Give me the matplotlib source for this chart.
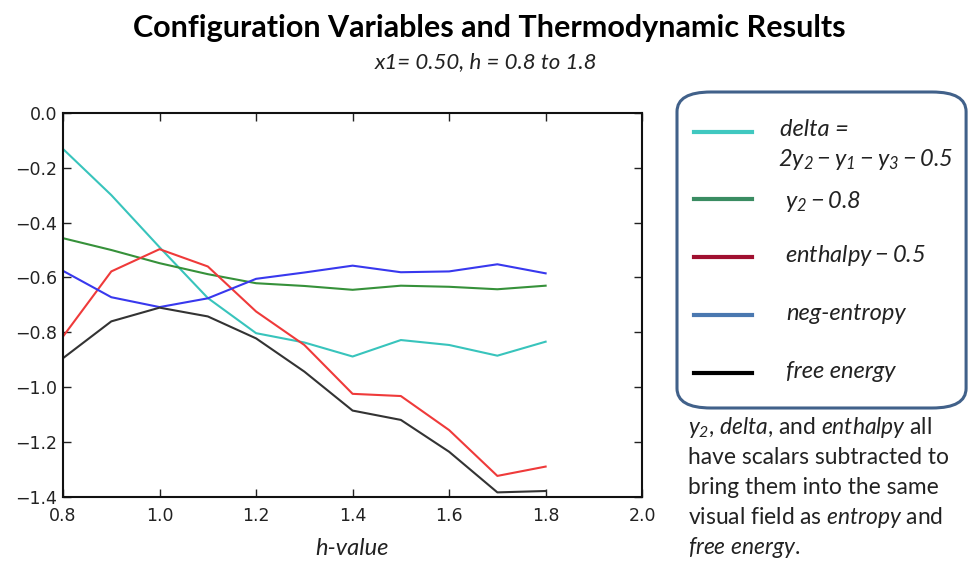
import matplotlib
matplotlib.use("Agg")
import matplotlib.pyplot as plt
from matplotlib.patches import FancyBboxPatch
from matplotlib.lines import Line2D

# data
h = [0.8, 0.9, 1.0, 1.1, 1.2, 1.3, 1.4, 1.5, 1.6, 1.7, 1.8]
delta = [-0.132, -0.30, -0.49, -0.675, -0.803, -0.837, -0.888, -0.828, -0.846, -0.885, -0.834]
y2 = [-0.457, -0.50, -0.548, -0.588, -0.621, -0.631, -0.645, -0.630, -0.634, -0.643, -0.630]
enthalpy = [-0.815, -0.578, -0.497, -0.56, -0.724, -0.846, -1.024, -1.032, -1.156, -1.323, -1.289]
neg_entropy = [-0.576, -0.672, -0.708, -0.676, -0.605, -0.582, -0.557, -0.581, -0.578, -0.552, -0.585]
free_energy = [-0.894, -0.76, -0.71, -0.742, -0.822, -0.943, -1.085, -1.119, -1.235, -1.383, -1.378]

line_colors = ["#38c4bc", "#36913a", "#ef3a3a", "#3838ee", "#333333"]
legend_colors = ["#40c8c0", "#3a8c62", "#a01030", "#4a78b0", "#000000"]

# math parts are all italic in the reference, digits included
plt.rcParams["mathtext.fontset"] = "custom"
plt.rcParams["mathtext.rm"] = "Lato:italic"
plt.rcParams["mathtext.it"] = "Lato:italic"

fig = plt.figure(figsize=(9.7, 5.61), dpi=100)
ax = fig.add_axes([0.065, 0.114, 0.597, 0.685])

for ys, c in zip([delta, y2, enthalpy, neg_entropy, free_energy], line_colors):
    ax.plot(h, ys, color=c, lw=1.5)

ax.set_xlim(0.8, 2.0)
ax.set_ylim(-1.4, 0.0)
ax.set_xticks([0.8, 1.0, 1.2, 1.4, 1.6, 1.8, 2.0])
ax.set_yticks([0.0, -0.2, -0.4, -0.6, -0.8, -1.0, -1.2, -1.4])
ax.tick_params(direction="in", top=True, right=True, length=6, width=1,
               labelsize=12.5, colors="#222222")
ax.tick_params(axis="x", pad=7)
ax.tick_params(axis="y", pad=4)
for s in ax.spines.values():
    s.set_linewidth(1.5)
    s.set_color("#111111")

fig.text(0.504, 0.950, "Configuration Variables and Thermodynamic Results",
         ha="center", va="center", fontsize=22, fontweight="bold", family="Lato")
fig.text(0.501, 0.890, "x1= 0.50, h = 0.8 to 1.8", ha="center", va="center",
         fontsize=16, style="italic", family="Lato", color="#222222")
fig.text(0.363, 0.022, "h-value", ha="center", va="center",
         fontsize=17, style="italic", family="Lato", color="#222222")

# hand-drawn legend box
box = FancyBboxPatch((677 / 970, 1 - 408 / 561), 292 / 970 - 0.003, 316 / 561,
                     boxstyle="round,pad=0,rounding_size=0.035",
                     transform=fig.transFigure, fill=False,
                     edgecolor="#41618a", lw=2.2)
fig.patches.append(box)

leg_y = [132, 199, 257, 315, 373]
for yy, c in zip(leg_y, legend_colors):
    fig.lines.append(Line2D([694 / 970, 752 / 970], [1 - yy / 561] * 2,
                            transform=fig.transFigure, color=c, lw=3))

tkw = dict(fontsize=17, style="italic", family="Lato", va="center",
           color="#222222")
fig.text(780 / 970, 1 - 130 / 561, "delta =", **tkw)
fig.text(778 / 970, 1 - 160 / 561, r"$2y_2 - y_1 - y_3 - 0.5$", **tkw)
fig.text(785 / 970, 1 - 201 / 561, r"$y_2 - 0.8$", **tkw)
fig.text(785 / 970, 1 - 255 / 561, r"$enthalpy - 0.5$", **tkw)
fig.text(786 / 970, 1 - 313 / 561, "neg-entropy", **tkw)
fig.text(786 / 970, 1 - 371 / 561, "free energy", **tkw)

nkw = dict(fontsize=16.4, family="Lato", va="center", color="#222222")
notes = [
    r"$y_2$, $delta$, and $enthalpy$ all",
    "have scalars subtracted to",
    "bring them into the same",
    r"visual field as $entropy$ and",
    r"$free\ energy$.",
]
for yy, t in zip([428, 457, 487, 517, 547], notes):
    fig.text(688 / 970, 1 - yy / 561, t, **nkw)

fig.savefig("out.png", dpi=100)
